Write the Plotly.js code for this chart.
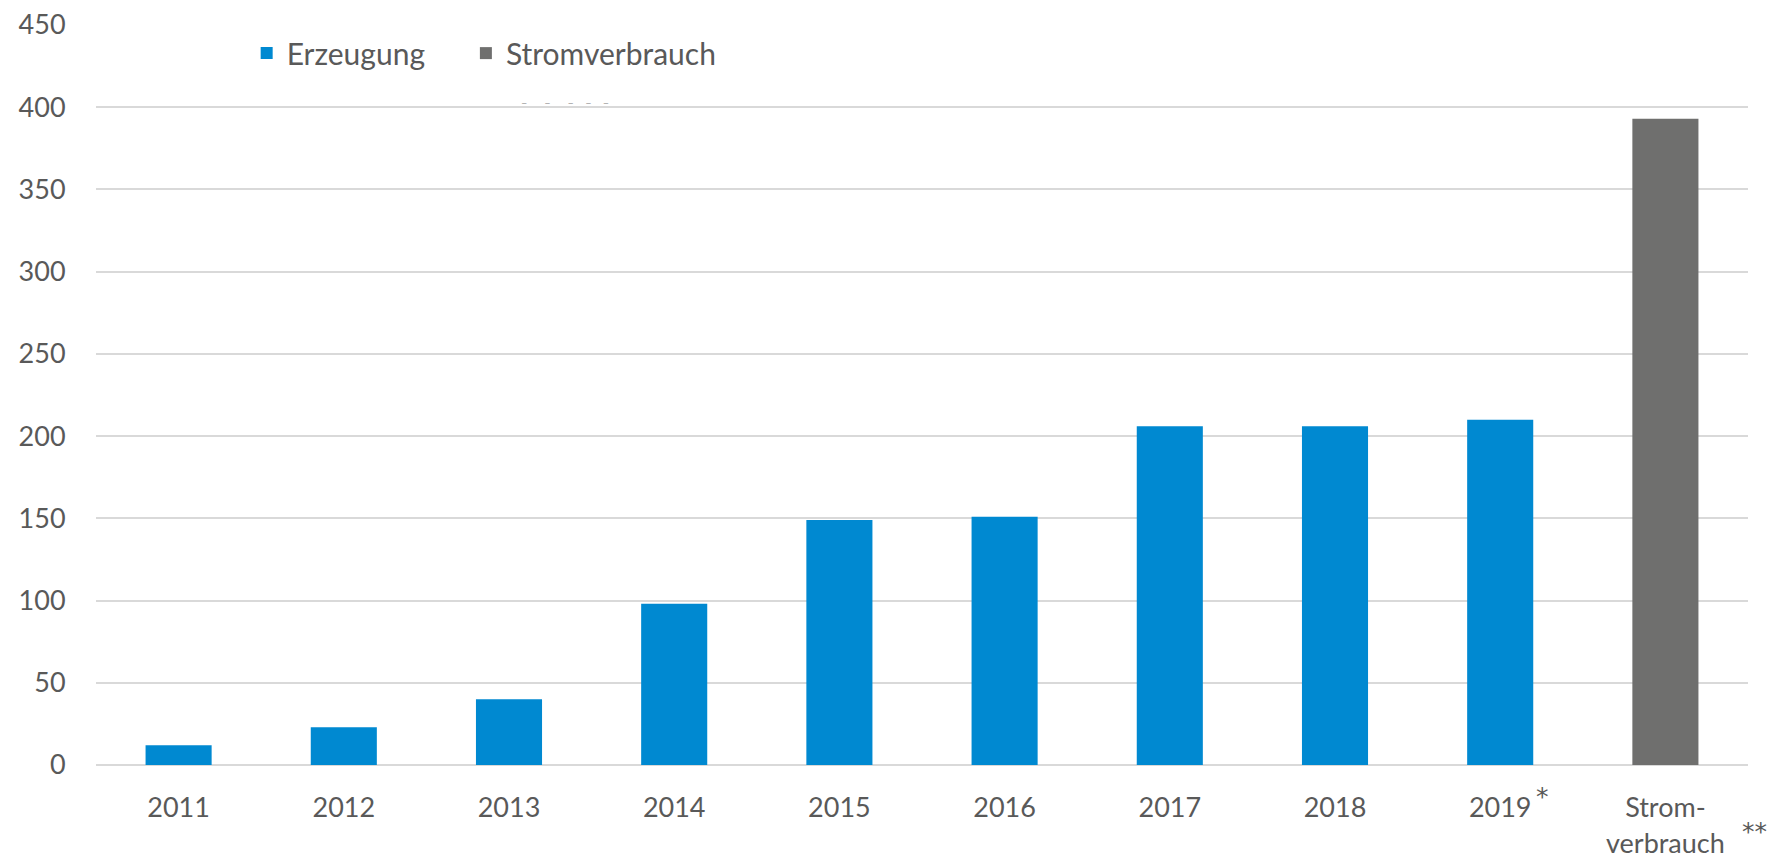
<!DOCTYPE html>
<html>
<head>
<meta charset="utf-8">
<script src="https://cdn.plot.ly/plotly-3.0.1.min.js"></script>
<style>html,body{margin:0;padding:0;background:#fff;}#chart{width:1768px;height:857px;}</style>
</head>
<body>
<div id="chart"></div>
<script>
const categories = ["2011","2012","2013","2014","2015","2016","2017","2018","2019","Stromverbrauch"];
const tickLabels = ["2011","2012","2013","2014","2015","2016","2017","2018","2019","Strom-<br>verbrauch"];
const erzeugungCats = ["2011","2012","2013","2014","2015","2016","2017","2018","2019"];
const erzeugungValues = [12, 23, 40, 98, 149, 151, 206, 206, 210];
const verbrauchCats = ["Stromverbrauch"];
const verbrauchValues = [393];
const yTicks = [0,50,100,150,200,250,300,350,400,450];

const font = "Lato, 'Open Sans', sans-serif";
const textColor = "#595959";

const data = [
  {type:'bar', name:'Erzeugung', x:erzeugungCats, y:erzeugungValues,
   marker:{color:'#0089D1'}, hoverinfo:'x+y', legend:'legend'},
  {type:'bar', name:'Stromverbrauch', x:verbrauchCats, y:verbrauchValues,
   marker:{color:'#6F6F6E'}, hoverinfo:'x+y', legend:'legend2'}
];

const legendBase = {orientation:'h', xanchor:'left', y:0.962, yanchor:'middle',
  font:{family:font, size:30, color:textColor}, bgcolor:'rgba(0,0,0,0)', itemwidth:30};

const layout = {
  width:1768, height:857,
  margin:{l:96, r:20, t:25, b:92},
  paper_bgcolor:'#fff', plot_bgcolor:'#fff',
  barmode:'overlay',
  bargap:0.6,
  font:{family:font, size:27, color:textColor},
  showlegend:true,
  legend:Object.assign({}, legendBase, {x:0.0912}),
  legend2:Object.assign({}, legendBase, {x:0.2239}),
  xaxis:{type:'category', categoryorder:'array', categoryarray:categories,
         range:[-0.5, categories.length-0.5],
         tickmode:'array', tickvals:categories, ticktext:tickLabels,
         showgrid:false, zeroline:false, showline:false,
         ticks:'outside', ticklen:19, tickcolor:'rgba(0,0,0,0)',
         tickfont:{family:font, size:27, color:textColor}},
  yaxis:{range:[0,450], tickmode:'array', tickvals:yTicks,
         showgrid:true, gridcolor:'#D9D9D9', gridwidth:2,
         zeroline:true, zerolinecolor:'#D9D9D9', zerolinewidth:2,
         showline:false, ticks:'outside', ticklen:24, tickcolor:'rgba(0,0,0,0)',
         tickfont:{family:font, size:27, color:textColor}},
  annotations:[
    {x:categories.indexOf('2019'), y:0, xref:'x', yref:'y', text:'*', showarrow:false,
     xshift:42, yshift:-31, font:{family:"'DejaVu Sans', sans-serif", size:25, color:textColor}},
    {x:categories.indexOf('Stromverbrauch'), y:0, xref:'x', yref:'y', text:'**', showarrow:false,
     xshift:89, yshift:-66, font:{family:"'DejaVu Sans', sans-serif", size:25, color:textColor}},
    {x:0.256, y:0.907, xref:'paper', yref:'paper', text:'–      –      –    –    –', showarrow:false,
     font:{family:font, size:11, color:'#A6A6A6'}}
  ]
};

Plotly.newPlot('chart', data, layout, {staticPlot:true, displayModeBar:false});
</script>
</body>
</html>
